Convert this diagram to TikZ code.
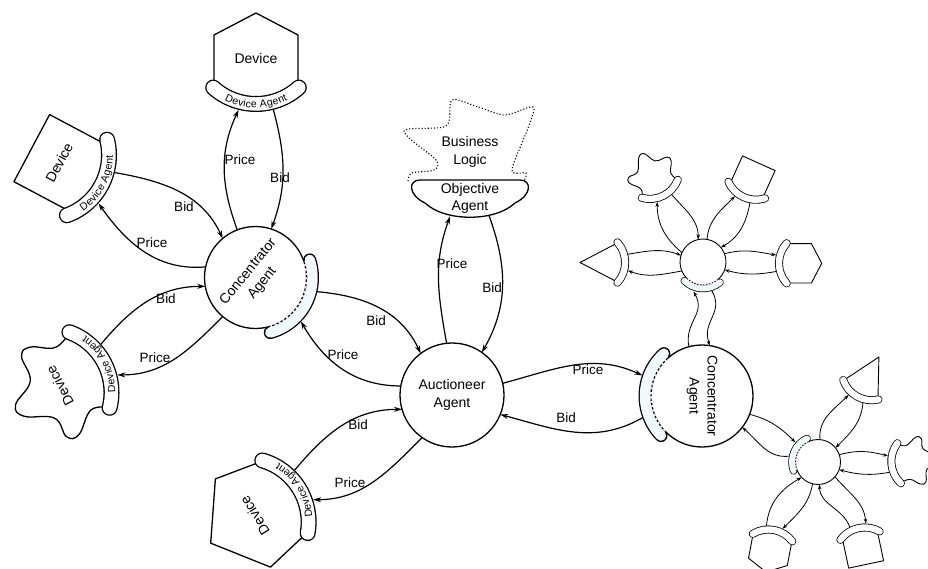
\documentclass[tikz,border=0pt]{standalone}
\usepackage{fontspec}
\setmainfont{Liberation Sans}
\usetikzlibrary{arrows.meta, decorations.text}
\definecolor{agentfill}{RGB}{240,249,252}
\tikzset{>={Stealth[length=8pt,width=5pt]}}

% device with its agent band; local frame: band at the bottom
\newcommand{\agentdev}[5]{%
  \begin{scope}[shift={#2}, #3]
    \filldraw[device_body, #4];
    \draw[band_line] ([shift={(0,12)}]228:64) arc[start angle=228, end angle=312, radius=64];
    \draw[band_fill] ([shift={(0,12)}]228:64) arc[start angle=228, end angle=312, radius=64];
    \coordinate (#1-l) at ([shift={(0,12)}]256:72);
    \coordinate (#1-r) at ([shift={(0,12)}]284:72);
    #5
  \end{scope}}

% agent band sitting on a concentrator circle
\newcommand{\hubagent}[5]{%
  \draw[hband_line] ([shift={(#2:#5)}]#1.center) arc[start angle=#2, end angle=#3, radius=#5];
  \draw[hband_fill] ([shift={(#2:#5)}]#1.center) arc[start angle=#2, end angle=#3, radius=#5];
  \draw[hband_gap] ([shift={(#2:#4)}]#1.center) arc[start angle=#2, end angle=#3, radius=#4];
  \draw[hband_dash] ([shift={(#2:#4)}]#1.center) arc[start angle=#2, end angle=#3, radius=#4];}

\begin{document}
\begin{tikzpicture}[x=1pt, y=1pt,
  agent_hub/.style={circle, draw, fill=white, line width=1.3pt, inner sep=0pt, outer sep=0pt, align=center, font=\fontsize{14}{18}\selectfont},
  small_hub/.style={circle, draw, fill=white, line width=0.9pt, inner sep=0pt, outer sep=0pt},
  hub_text/.style={align=center, font=\fontsize{14}{18}\selectfont},
  dev_text/.style={font=\fontsize{14}{16}\selectfont, transform shape},
  lbl/.style={font=\fontsize{13.5}{16}\selectfont, inner sep=1pt},
  device_body/.style={draw, fill=white, line width=1.3pt, line join=round},
  band_line/.style={line width=16pt, line cap=round},
  band_fill/.style={white, line width=13.4pt, line cap=round},
  hband_line/.style={line width=13pt, line cap=round},
  hband_fill/.style={agentfill, line width=10.4pt, line cap=round},
  hband_gap/.style={white, line width=1.8pt},
  hband_dash/.style={line width=1.1pt, dash pattern=on 2.5pt off 2pt},
  small/.style={band_line/.style={line width=8pt, line cap=round},
    band_fill/.style={white, line width=6.4pt, line cap=round},
    device_body/.style={draw, fill=white, line width=0.9pt, line join=round},
    hband_line/.style={line width=7.5pt, line cap=round},
    hband_fill/.style={agentfill, line width=6pt, line cap=round},
    hband_gap/.style={white, line width=1.3pt},
    hband_dash/.style={line width=0.7pt, dash pattern=on 1.6pt off 1.4pt}},
  flow/.style={->, line width=1.2pt},
  small_flow/.style={->, line width=0.8pt, >={Stealth[length=5pt,width=3.5pt]}},
  hex_body/.style={insert path={(-42,-36.3) -- (-42,17) -- (0,39) -- (42,17) -- (42,-36.3) arc[start angle=311, end angle=229, radius=64] -- cycle}},
  rect_body/.style={insert path={(-38,-39.5) -- (-38,27) -- (38,27) -- (38,-39.5) arc[start angle=306.4, end angle=233.6, radius=64] -- cycle}},
  pent_body/.style={insert path={(-42,-36.3) -- (-52,14) -- (0,52) -- (52,14) -- (42,-36.3) arc[start angle=311, end angle=229, radius=64] -- cycle}},
  cone_body/.style={insert path={(-42,-36.3) -- (0,44) -- (42,-36.3) arc[start angle=311, end angle=229, radius=64] -- cycle}},
  blob_body/.style={insert path={plot[smooth, tension=0.7] coordinates {(-42.8,-35.6) (-36,-18) (-52,4) (-48,16) (-26,18) (-10,44) (4,46) (18,22) (44,18) (48,6) (36,-16) (42.8,-35.6)} arc[start angle=312, end angle=228, radius=64] -- cycle}},
  agent_text/.style={decorate, decoration={text along path, text align=center, raise=-3.8pt,
    text={|\fontsize{10.5}{12}\selectfont|Device Agent}}}]
\useasboundingbox (0,0) rectangle (928,-569);

% hubs
\node[agent_hub, minimum size=104pt] (auc) at (452,-395) {Auctioneer\\Agent};
\node[agent_hub, minimum size=102pt] (cl) at (255.5,-277.5) {};
\node[hub_text, rotate=51] (cl-txt) at (cl) {Concentrator\\Agent};
\node[agent_hub, minimum size=102pt] (cr) at (702,-396) {};
\node[hub_text, rotate=-90] (cr-txt) at (cr) {Concentrator\\Agent};
\node[small_hub, minimum size=46pt] (h1) at (703,-262) {};
\node[small_hub, minimum size=45pt] (h2) at (818,-462) {};

\hubagent{cl}{18}{-75}{51}{57}
\hubagent{cr}{132}{224}{51}{57}
\begin{scope}[small]
  \hubagent{h1}{225}{310}{23}{26.5}
  \hubagent{h2}{115}{200}{22.5}{26}
\end{scope}

% objective agent and its business logic
\draw[dotted, line width=1.1pt] plot[smooth, tension=0.5] coordinates {(408,-181) (412,-173) (434,-170) (436,-160) (404,-131) (446,-126) (452,-100) (478,-107) (505,-115) (533,-107) (528,-128) (512,-170) (526,-173) (524,-181)};
\node[hub_text] (bl-txt) at (470,-152) {Business\\Logic};
\draw[device_body] (420,-180) -- (520,-180) .. controls (532,-180) and (532,-195) .. (515,-203) .. controls (495,-222) and (445,-222) .. (425,-203) .. controls (408,-195) and (408,-180) .. (420,-180) -- cycle;
\node[hub_text, font=\fontsize{14}{17}\selectfont] (obj-txt) at (470,-198) {Objective\\Agent};
\coordinate (obj-l) at (450,-216.5);
\coordinate (obj-r) at (489,-215.5);

% devices
\agentdev{dtop}{(256,-52)}{rotate=0}{hex_body}{\node[dev_text] (dtop-txt) at (0,-6) {Device};
  \path[agent_text] ([shift={(0,12)}]228:64) arc[start angle=228, end angle=312, radius=64];}
\agentdev{dul}{(55.6,-160.8)}{rotate=62}{rect_body}{\node[dev_text] (dul-txt) at (0,-4) {Device};
  \path[agent_text] ([shift={(0,12)}]228:64) arc[start angle=228, end angle=312, radius=64];}
\agentdev{dll}{(58.1,-386.7)}{rotate=118}{blob_body}{\node[dev_text] (dll-txt) at (0,-2) {Device};
  \path[agent_text] ([shift={(0,12)}]228:64) arc[start angle=228, end angle=312, radius=64];}
\agentdev{dbot}{(254.8,-515.6)}{rotate=122}{pent_body}{\node[dev_text] (dbot-txt) at (0,0) {Device};
  \path[agent_text] ([shift={(0,12)}]228:64) arc[start angle=228, end angle=312, radius=64];}

\agentdev{sstar}{(652.3,-173.9)}{rotate=26.6, scale=0.47, small}{blob_body}{}
\agentdev{ssq}{(753.6,-174.8)}{rotate=-24.3, scale=0.47, small}{rect_body}{}
\agentdev{scone}{(600.7,-262.5)}{rotate=90, scale=0.47, small}{cone_body}{}
\agentdev{shex}{(803.4,-263.3)}{rotate=-90, scale=0.47, small}{hex_body}{}
\agentdev{scone2}{(868.9,-375.1)}{rotate=-28.9, scale=0.47, small}{cone_body}{}
\agentdev{sblob}{(915.8,-461.8)}{rotate=-85, scale=0.47, small}{blob_body}{}
\agentdev{ssq2}{(863.5,-552)}{rotate=192, scale=0.47, small}{rect_body}{}
\agentdev{shex2}{(769.4,-554)}{rotate=169.2, scale=0.47, small}{hex_body}{}

% price / bid flows
\draw[flow] (cl.111) to[out=110, in=245] (dtop-l);
\draw[flow] (dtop-r) to[out=-75, in=70] (cl.72);
\draw[flow] (dul-r) to[out=-10, in=115] (cl.130);
\draw[flow] (cl.168) to[out=185, in=-55] (dul-l);
\draw[flow] (dll-r) to[out=50, in=180] (cl.190);
\draw[flow] (cl.230) to[out=225, in=0] (dll-l);
\draw[flow] ([shift={(-13:63)}]cl.center) to[out=-5, in=115] (auc.127);
\draw[flow] (auc.170) to[out=180, in=-60] ([shift={(-44:63)}]cl.center);
\draw[flow] (auc.96) to[out=100, in=250] (obj-l);
\draw[flow] (obj-r) to[out=-70, in=60] (auc.55);
\draw[flow] (dbot-r) to[out=50, in=180] (auc.196);
\draw[flow] (auc.235) to[out=225, in=0] (dbot-l);
\draw[flow] (auc.13) to[out=15, in=155] ([shift={(161:63)}]cr.center);
\draw[flow] ([shift={(200:63)}]cr.center) to[out=210, in=-15] (auc.-22);

\node[lbl] (p1) at (240,-160) {Price};
\node[lbl] (b1) at (280,-178) {Bid};
\node[lbl] (b2) at (184,-207) {Bid};
\node[lbl] (p2) at (152,-243) {Price};
\node[lbl] (b3) at (166,-299) {Bid};
\node[lbl] (p3) at (155,-358) {Price};
\node[lbl] (b4) at (376,-321) {Bid};
\node[lbl] (p4) at (343,-355) {Price};
\node[lbl] (p5) at (452,-264) {Price};
\node[lbl] (b5) at (492,-288) {Bid};
\node[lbl] (b6) at (358,-425) {Bid};
\node[lbl] (p6) at (350,-483) {Price};
\node[lbl] (p7) at (588,-370) {Price};
\node[lbl] (b7) at (566,-418) {Bid};

% flows of the two small concentrators
\draw[small_flow] (h1.156) to[out=140, in=-90] (sstar-l);
\draw[small_flow] (sstar-r) to[out=-50, in=90] (h1.102);
\draw[small_flow] (h1.80) to[out=85, in=225] (ssq-l);
\draw[small_flow] (ssq-r) to[out=-100, in=30] (h1.39);
\draw[small_flow] (scone-r) to[out=10, in=160] (h1.163);
\draw[small_flow] (h1.203) to[out=190, in=-20] (scone-l);
\draw[small_flow] (h1.21) to[out=15, in=170] (shex-l);
\draw[small_flow] (shex-r) to[out=190, in=-15] (h1.-20);
\draw[small_flow] (cr.105) to[out=100, in=-60, looseness=1.2] ([shift={(252:31)}]h1.center);
\draw[small_flow] ([shift={(287:30)}]h1.center) to[out=-60, in=110, looseness=1.2] (cr.81);

\draw[small_flow] (cr.-21) to[out=-15, in=135] ([shift={(139:30)}]h2.center);
\draw[small_flow] ([shift={(169:30)}]h2.center) to[out=185, in=-40] (cr.-38);
\draw[small_flow] (h2.85) to[out=95, in=225] (scone2-l);
\draw[small_flow] (scone2-r) to[out=-95, in=45] (h2.39);
\draw[small_flow] (h2.19) to[out=15, in=165] (sblob-l);
\draw[small_flow] (sblob-r) to[out=190, in=-15] (h2.-20);
\draw[small_flow] (h2.-41) to[out=-50, in=95] (ssq2-l);
\draw[small_flow] (ssq2-r) to[out=110, in=-90] (h2.-86);
\draw[small_flow] (shex2-r) to[out=85, in=210] (h2.223);
\draw[small_flow] (h2.256) to[out=-100, in=45] (shex2-l);
\end{tikzpicture}
\end{document}
